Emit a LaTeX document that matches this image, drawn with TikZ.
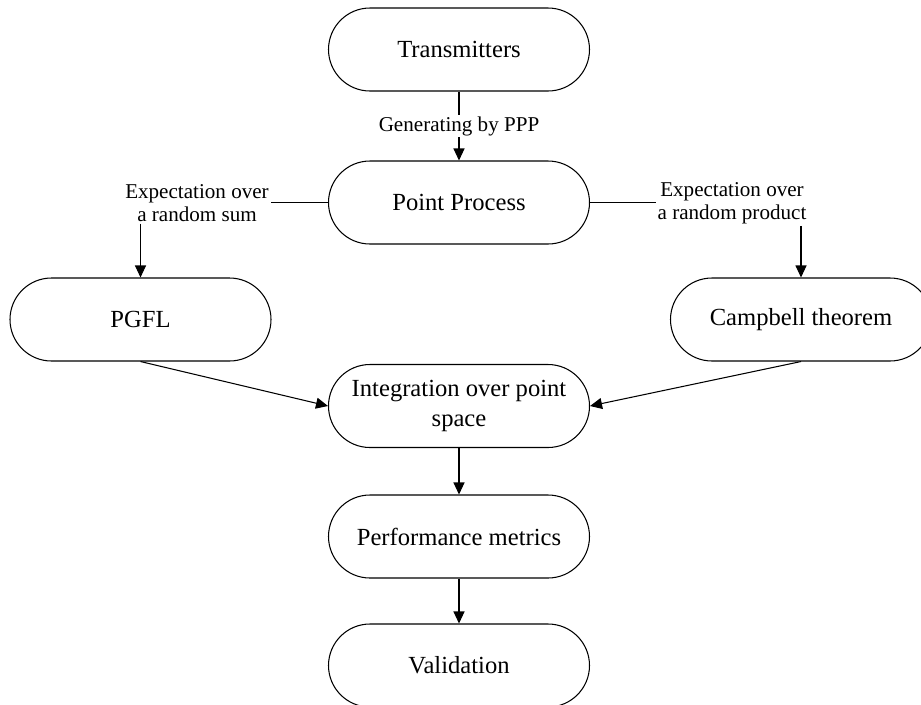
\documentclass[tikz,border=0pt]{standalone}
\usepackage{fontspec}
\setmainfont{Liberation Serif}
\usepackage{xcolor}
\usetikzlibrary{positioning, arrows.meta}
\definecolor{lineblack}{RGB}{0, 0, 0}
\tikzset{
    procnode/.style={rectangle, rounded corners=0.83cm, draw=lineblack, line width=0.6pt, minimum width=5.22cm, minimum height=1.66cm, align=center, font=\fontsize{14}{17}\selectfont},
    notelabel/.style={align=center, inner sep=1pt, font=\fontsize{12}{13}\selectfont},
    plainline/.style={draw=lineblack, line width=0.6pt},
    flowarrow/.style={plainline, -{Triangle[length=2.4mm, width=2.2mm]}}
}

\begin{document}
\begin{tikzpicture}
                \useasboundingbox (0,0) rectangle (18.42,-14.08);
                \clip (0,0) rectangle (18.42,-14.08);

                \node[procnode] (tx) at (9.18,-0.99) {Transmitters};
                \node[procnode] (pp) at (9.18,-4.05) {Point Process};
                \node[procnode] (pgfl) at (2.81,-6.39) {PGFL};
                \node[procnode] (camp) at (16.02,-6.39) {Campbell theorem};
                \node[procnode] (integ) at (9.18,-8.12) {Integration over point\\space};
                \node[procnode] (perf) at (9.18,-10.73) {Performance metrics};
                \node[procnode] (valid) at (9.18,-13.31) {Validation};

                \node[notelabel] (sumlabel) at (3.94,-4.06) {Expectation over\\a random sum};
                \node[notelabel] (prodlabel) at (14.64,-4.06) {Expectation over\\a random product};

                \draw[flowarrow] (tx) -- node[notelabel, fill=white] {Generating by PPP} (pp);
                \draw[plainline] (pp.west) -- (pp.west -| sumlabel.east);
                \draw[flowarrow] (sumlabel.south -| pgfl.north) -- (pgfl.north);
                \draw[plainline] (pp.east) -- (pp.east -| prodlabel.west);
                \draw[flowarrow] (prodlabel.south -| camp.north) -- (camp.north);
                \draw[flowarrow] (pgfl.south) -- (integ.west);
                \draw[flowarrow] (camp.south) -- (integ.east);
                \draw[flowarrow] (integ) -- (perf);
                \draw[flowarrow] (perf) -- (valid);
            \end{tikzpicture}
\end{document}
